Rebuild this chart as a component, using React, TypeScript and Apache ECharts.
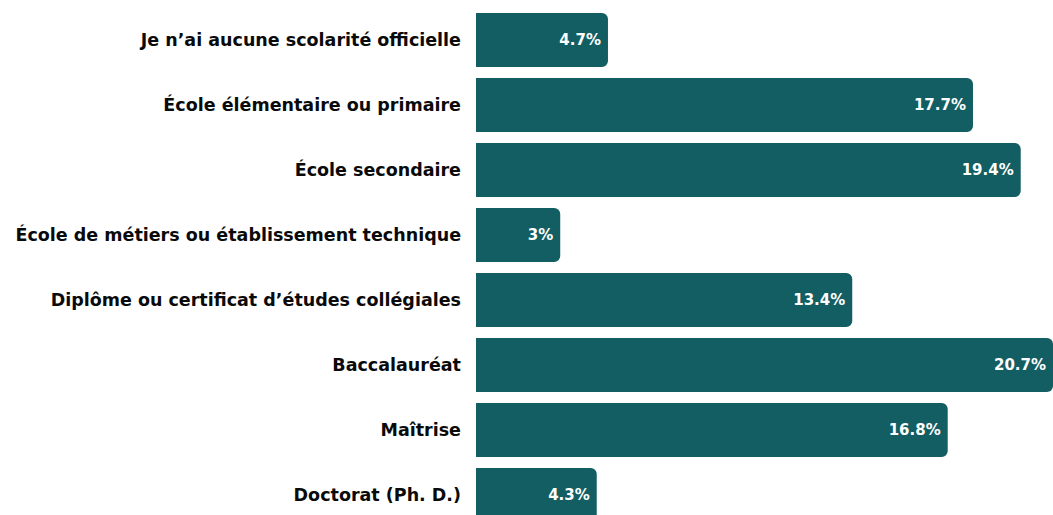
import React, { useEffect, useRef } from "react";
import * as echarts from "echarts";

const categories = [
  "Je n’ai aucune scolarité officielle",
  "École élémentaire ou primaire",
  "École secondaire",
  "École de métiers ou établissement technique",
  "Diplôme ou certificat d’études collégiales",
  "Baccalauréat",
  "Maîtrise",
  "Doctorat (Ph. D.)",
];
const values = [4.7, 17.7, 19.4, 3, 13.4, 20.7, 16.8, 4.3];
const barColor = "#125E63";
const fontFamily = "'DejaVu Sans', sans-serif";

export default function App() {
  const ref = useRef<HTMLDivElement>(null);
  useEffect(() => {
    document.body.style.margin = "0";
    const chart = echarts.init(ref.current!, null, { renderer: "svg" });
    chart.setOption({
      animation: false,
      grid: { left: 476, right: 0, top: 7.5, height: 520, containLabel: false },
      xAxis: { type: "value", min: 0, max: 20.55, show: false },
      yAxis: {
        type: "category",
        data: categories,
        inverse: true,
        axisLine: { show: false },
        axisTick: { show: false },
        axisLabel: {
          margin: 15,
          color: "#0a0a0a",
          fontSize: 17.5,
          fontWeight: "bold",
          fontFamily,
        },
      },
      series: [
        {
          type: "bar",
          data: values,
          barWidth: 54,
          itemStyle: { color: barColor, borderRadius: [0, 6, 6, 0] },
          label: {
            show: true,
            position: "insideRight",
            distance: 7,
            color: "#fff",
            fontSize: 15,
            fontWeight: "bold",
            fontFamily,
            formatter: (p: any) => p.value + "%",
          },
        },
      ],
    });
    return () => chart.dispose();
  }, []);
  return <div ref={ref} style={{ width: 1053, height: 528 }} />;
}
